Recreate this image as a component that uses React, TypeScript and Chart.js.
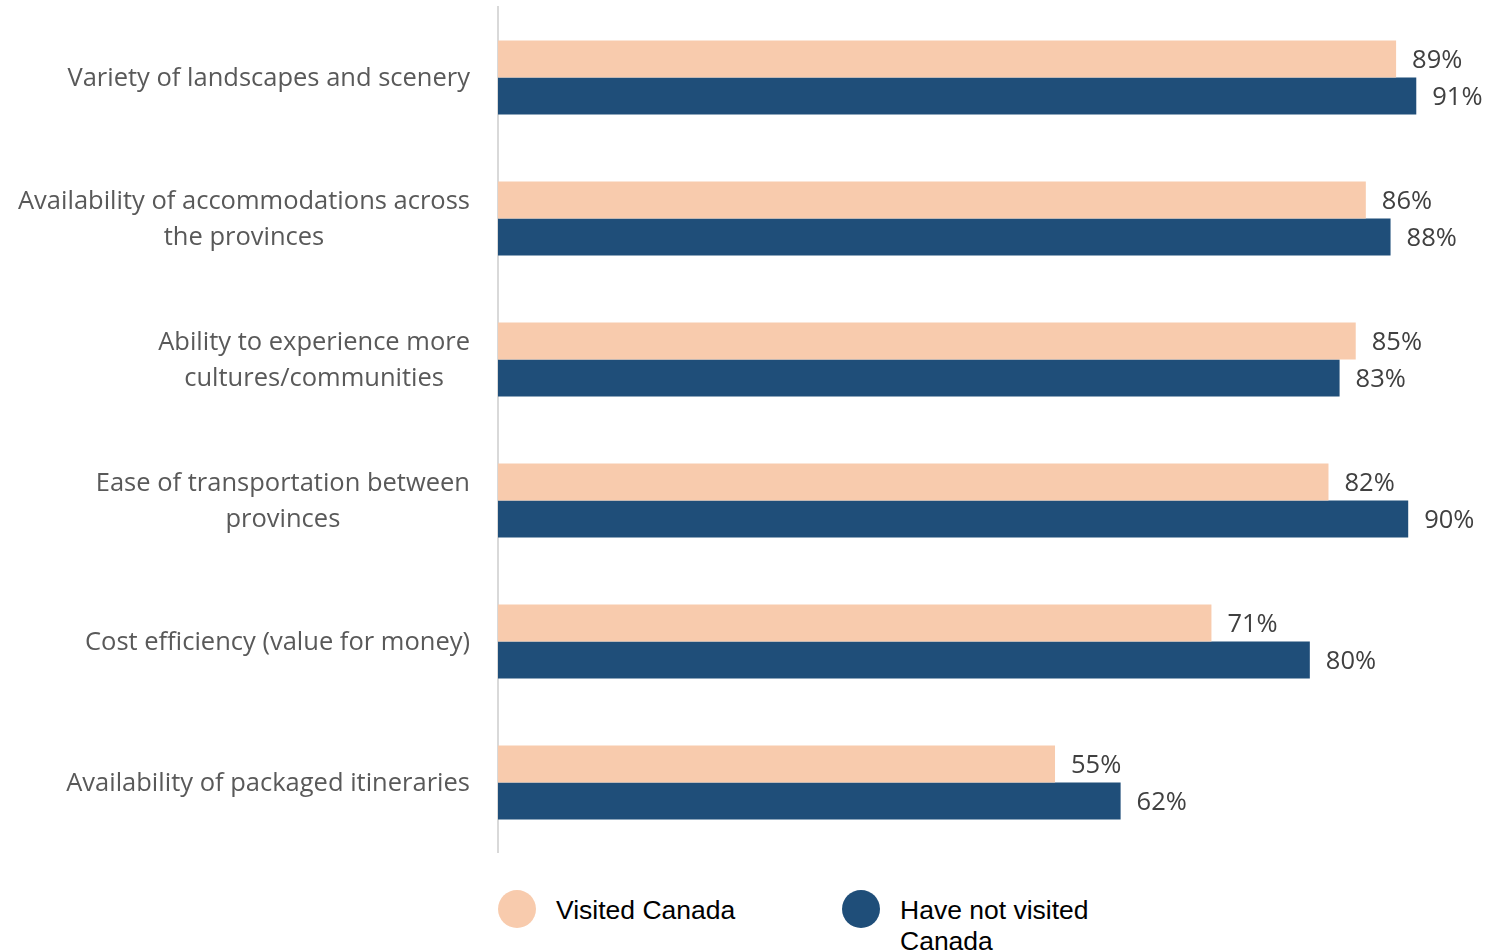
import React, { useEffect, useRef } from "react";
import { Chart, registerables } from "chart.js";

Chart.register(...registerables);

const categories: string[][] = [
  ["Variety of landscapes and scenery"],
  ["Availability of accommodations across", "the provinces"],
  ["Ability to experience more", "cultures/communities"],
  ["Ease of transportation between", "provinces"],
  ["Cost efficiency (value for money)"],
  ["Availability of packaged itineraries"],
];
const visitedValues = [89, 86, 85, 82.3, 70.7, 55.2];
const notVisitedValues = [91, 88.45, 83.4, 90.2, 80.45, 61.7];
const visitedLabels = ["89%", "86%", "85%", "82%", "71%", "55%"];
const notVisitedLabels = ["91%", "88%", "83%", "90%", "80%", "62%"];
const seriesNames = ["Visited Canada", "Have not visited Canada"];

const PEACH = "#F8CBAD";
const NAVY = "#1F4E79";
const LABEL_FONT = "'Open Sans', Lato, sans-serif";

const catLabelPlugin = {
  id: "catLabels",
  afterDraw(chart: any) {
    const ctx = chart.ctx;
    const yScale = chart.scales.y;
    ctx.save();
    ctx.font = `25.5px ${LABEL_FONT}`;
    ctx.fillStyle = "#595959";
    ctx.textAlign = "center";
    ctx.textBaseline = "middle";
    const lineH = 36;
    categories.forEach((lines, i) => {
      const y = yScale.getPixelForTick(i) + 1;
      const bw = Math.max(...lines.map((l) => ctx.measureText(l).width));
      const cx = 470 - bw / 2;
      lines.forEach((l, j) => {
        ctx.fillText(l, cx, y + (j - (lines.length - 1) / 2) * lineH);
      });
    });
    ctx.restore();
  },
};

const valueLabelPlugin = {
  id: "valueLabels",
  afterDatasetsDraw(chart: any) {
    const ctx = chart.ctx;
    ctx.save();
    ctx.font = `25.5px ${LABEL_FONT}`;
    ctx.fillStyle = "#404040";
    ctx.textAlign = "left";
    ctx.textBaseline = "middle";
    const labelSets = [visitedLabels, notVisitedLabels];
    chart.data.datasets.forEach((_ds: any, di: number) => {
      const meta = chart.getDatasetMeta(di);
      meta.data.forEach((bar: any, i: number) => {
        ctx.fillText(labelSets[di][i], bar.x + 16, bar.y + 2);
      });
    });
    ctx.restore();
  },
};

export default function App() {
  const ref = useRef<HTMLCanvasElement | null>(null);

  useEffect(() => {
    if (!ref.current) return;
    const chart = new Chart(ref.current, {
      type: "bar",
      data: {
        labels: categories.map((c) => c.join(" ")),
        datasets: [
          {
            label: seriesNames[0],
            data: visitedValues,
            backgroundColor: PEACH,
            barPercentage: 1,
            categoryPercentage: 0.525,
          },
          {
            label: seriesNames[1],
            data: notVisitedValues,
            backgroundColor: NAVY,
            barPercentage: 1,
            categoryPercentage: 0.525,
          },
        ],
      },
      options: {
        indexAxis: "y",
        responsive: false,
        animation: false,
        layout: { padding: { top: 7, right: 0, bottom: 0, left: 0 } },
        plugins: {
          legend: { display: false },
          tooltip: { enabled: false },
        },
        scales: {
          x: {
            display: false,
            min: 0,
            max: 98.9,
          },
          y: {
            grid: { display: false },
            border: { display: true, color: "#D9D9D9", width: 2 },
            ticks: { display: false },
            afterFit: (scale: any) => {
              scale.width = 498;
            },
          },
        },
      },
      plugins: [catLabelPlugin, valueLabelPlugin],
    } as any);
    return () => chart.destroy();
  }, []);

  const legendText: React.CSSProperties = {
    position: "absolute",
    fontFamily: "'Liberation Sans', Arial, sans-serif",
    fontSize: 26.5,
    lineHeight: "31px",
    color: "#000",
  };
  const dot = (color: string, cx: number): React.CSSProperties => ({
    position: "absolute",
    left: cx - 19,
    top: 909 - 19,
    width: 38,
    height: 38,
    borderRadius: "50%",
    background: color,
  });

  return (
    <div
      style={{
        position: "absolute",
        left: 0,
        top: 0,
        width: 1496,
        height: 952,
        overflow: "hidden",
        background: "#fff",
      }}
    >
      <canvas
        ref={ref}
        width={1496}
        height={853}
        style={{ position: "absolute", left: 0, top: 0, width: 1496, height: 853 }}
      />
      <div style={dot(PEACH, 517)} />
      <div style={{ ...legendText, left: 556, top: 895 }}>{seriesNames[0]}</div>
      <div style={dot(NAVY, 861)} />
      <div style={{ ...legendText, left: 900, top: 895, width: 220 }}>
        Have not visited
        <br />
        Canada
      </div>
    </div>
  );
}
